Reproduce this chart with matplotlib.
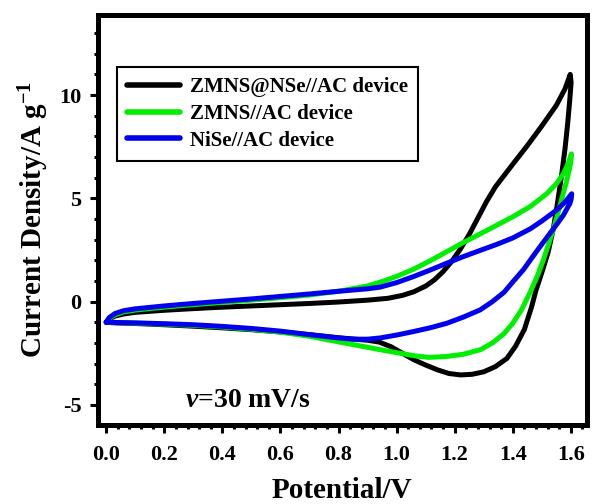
import matplotlib
matplotlib.use("Agg")
import matplotlib.pyplot as plt
from matplotlib.ticker import AutoMinorLocator

plt.rcParams['font.family'] = ['Liberation Serif', 'DejaVu Serif']
plt.rcParams['font.weight'] = 'bold'
plt.rcParams['mathtext.fontset'] = 'custom'
plt.rcParams['mathtext.rm'] = 'Liberation Serif:bold'
plt.rcParams['mathtext.bf'] = 'Liberation Serif:bold'
plt.rcParams['mathtext.it'] = 'Liberation Serif:italic:bold'

# ---------------- data ----------------
labels = ["ZMNS@NSe//AC device", "ZMNS//AC device", "NiSe//AC device"]
colors = ["#000000", "#00ee00", "#0000ee"]

# ZMNS@NSe//AC  (anodic sweep 0 -> 1.6 V, then cathodic sweep 1.6 -> 0 V)
black_v = [0.00, 0.01, 0.03, 0.06, 0.10, 0.20, 0.30, 0.40, 0.50, 0.60, 0.70, 0.80,
           0.90, 0.97, 1.02, 1.06, 1.10, 1.13, 1.16, 1.19, 1.22, 1.25, 1.28, 1.31,
           1.34, 1.37, 1.40, 1.45, 1.50, 1.55, 1.58, 1.598,
           1.601, 1.596, 1.589, 1.580, 1.569, 1.555, 1.540, 1.522, 1.50, 1.48, 1.465,
           1.44, 1.41, 1.38, 1.34, 1.30, 1.26, 1.22, 1.18, 1.14, 1.10, 1.06, 1.02,
           0.98, 0.94, 0.90, 0.80, 0.70, 0.60, 0.50, 0.40, 0.30, 0.20, 0.10, 0.03, 0.00]
black_i = [-1.00, -0.85, -0.70, -0.60, -0.52, -0.42, -0.34, -0.27, -0.21, -0.15, -0.09, -0.02,
           0.07, 0.16, 0.30, 0.48, 0.75, 1.05, 1.45, 1.95, 2.55, 3.25, 4.05, 4.85,
           5.55, 6.10, 6.65, 7.55, 8.50, 9.50, 10.30, 11.00,
           10.60, 9.70, 8.60, 7.40, 6.20, 4.85, 3.55, 2.40, 1.40, 0.55, -0.25,
           -1.35, -2.15, -2.75, -3.15, -3.40, -3.52, -3.55, -3.48, -3.30, -3.07, -2.82, -2.50,
           -2.18, -1.96, -1.87, -1.75, -1.60, -1.47, -1.36, -1.27, -1.19, -1.12, -1.06, -1.03, -1.00]

# ZMNS//AC
green_v = [0.00, 0.01, 0.03, 0.06, 0.10, 0.20, 0.30, 0.40, 0.50, 0.60, 0.70, 0.80,
           0.90, 0.95, 1.00, 1.06, 1.116, 1.173, 1.23, 1.288, 1.345, 1.402, 1.46,
           1.517, 1.55, 1.574, 1.59, 1.602,
           1.601, 1.597, 1.586, 1.574, 1.560, 1.546, 1.525, 1.505, 1.485, 1.46, 1.43,
           1.40, 1.37, 1.33, 1.29, 1.23, 1.17, 1.11, 1.06, 1.00, 0.94, 0.88, 0.80,
           0.70, 0.60, 0.50, 0.40, 0.30, 0.20, 0.10, 0.03, 0.00]
green_i = [-1.00, -0.82, -0.64, -0.50, -0.41, -0.27, -0.15, -0.04, 0.07, 0.19, 0.32, 0.50,
           0.76, 0.97, 1.22, 1.58, 1.98, 2.42, 2.86, 3.28, 3.70, 4.12, 4.60,
           5.22, 5.70, 6.18, 6.65, 7.15,
           6.90, 6.53, 5.85, 5.24, 4.50, 3.79, 2.85, 2.00, 1.25, 0.45, -0.40,
           -1.05, -1.55, -2.00, -2.32, -2.55, -2.66, -2.70, -2.62, -2.47, -2.32, -2.16, -1.95,
           -1.68, -1.48, -1.34, -1.23, -1.15, -1.09, -1.04, -1.01, -1.00]

# NiSe//AC
blue_v = [0.00, 0.01, 0.03, 0.06, 0.10, 0.20, 0.30, 0.40, 0.50, 0.60, 0.70, 0.80,
          0.90, 0.943, 1.00, 1.058, 1.116, 1.173, 1.23, 1.288, 1.345, 1.40, 1.46,
          1.50, 1.552, 1.58, 1.603,
          1.601, 1.597, 1.575, 1.552, 1.52, 1.494, 1.465, 1.437, 1.40, 1.37, 1.33,
          1.288, 1.23, 1.173, 1.115, 1.058, 1.00, 0.943, 0.90, 0.85, 0.80, 0.70,
          0.60, 0.50, 0.40, 0.30, 0.20, 0.10, 0.03, 0.00]
blue_i = [-1.00, -0.78, -0.58, -0.44, -0.35, -0.21, -0.09, 0.02, 0.13, 0.25, 0.37, 0.50,
          0.62, 0.70, 0.92, 1.21, 1.53, 1.86, 2.18, 2.48, 2.77, 3.08, 3.52,
          3.90, 4.44, 4.82, 5.22,
          4.95, 4.76, 4.20, 3.75, 3.15, 2.66, 2.10, 1.55, 0.95, 0.45, 0.00,
          -0.40, -0.75, -1.05, -1.27, -1.45, -1.62, -1.76, -1.82, -1.82, -1.76, -1.60,
          -1.43, -1.30, -1.20, -1.12, -1.07, -1.03, -1.01, -1.00]

x_ticks = [0.0, 0.2, 0.4, 0.6, 0.8, 1.0, 1.2, 1.4, 1.6]
x_tick_labels = ["0.0", "0.2", "0.4", "0.6", "0.8", "1.0", "1.2", "1.4", "1.6"]
y_ticks = [-5, 0, 5, 10]
y_tick_labels = ["-5", "0", "5", "10"]

# ---------------- figure ----------------
fig = plt.figure(figsize=(5.92, 5.04), dpi=100)
ax = fig.add_axes([97.5 / 592, 1 - 424.5 / 504, 489 / 592, 410 / 504])

series = [(black_v, black_i), (green_v, green_i), (blue_v, blue_i)]
for (v, i), lab, c in zip(series, labels, colors):
    ax.plot(v, i, color=c, lw=3.6, label=lab, solid_joinstyle='round',
            solid_capstyle='round')

ax.set_xlim(-0.03, 1.654)
ax.set_ylim(-5.95, 13.9)
ax.set_xticks(x_ticks)
ax.set_xticklabels(x_tick_labels)
ax.set_yticks(y_ticks)
ax.set_yticklabels(y_tick_labels)
ax.xaxis.set_minor_locator(AutoMinorLocator(5))
ax.yaxis.set_minor_locator(AutoMinorLocator(5))

for s in ax.spines.values():
    s.set_linewidth(3.6)
ax.tick_params(which='both', direction='out', top=False, right=False, width=2.2)
ax.tick_params(which='major', length=5.5, labelsize=16, pad=6)
ax.tick_params(axis='x', which='major', pad=9)
ax.tick_params(which='minor', length=3)
for t in ax.get_xticklabels() + ax.get_yticklabels():
    t.set_fontweight('bold')

ax.set_xlabel("Potential/V", fontsize=21, fontweight='bold', labelpad=9)
ax.set_ylabel(r"Current Density/A g$^{-1}$", fontsize=21, fontweight='bold', labelpad=6)

ax.text(0.273, -5.1, r"$\mathit{v}$=30 mV/s", fontsize=20, fontweight='bold',
        ha='left', va='baseline')

leg = ax.legend(loc='upper left', bbox_to_anchor=(0.04, 0.872), borderaxespad=0,
                fontsize=15, handlelength=2.5, handletextpad=0.5, labelspacing=0.32,
                borderpad=0.5, fancybox=False, framealpha=1, edgecolor='black')
leg.get_frame().set_linewidth(1.5)
for line in leg.get_lines():
    line.set_linewidth(4)
for t in leg.get_texts():
    t.set_fontweight('bold')

fig.savefig("out.png", dpi=100)
